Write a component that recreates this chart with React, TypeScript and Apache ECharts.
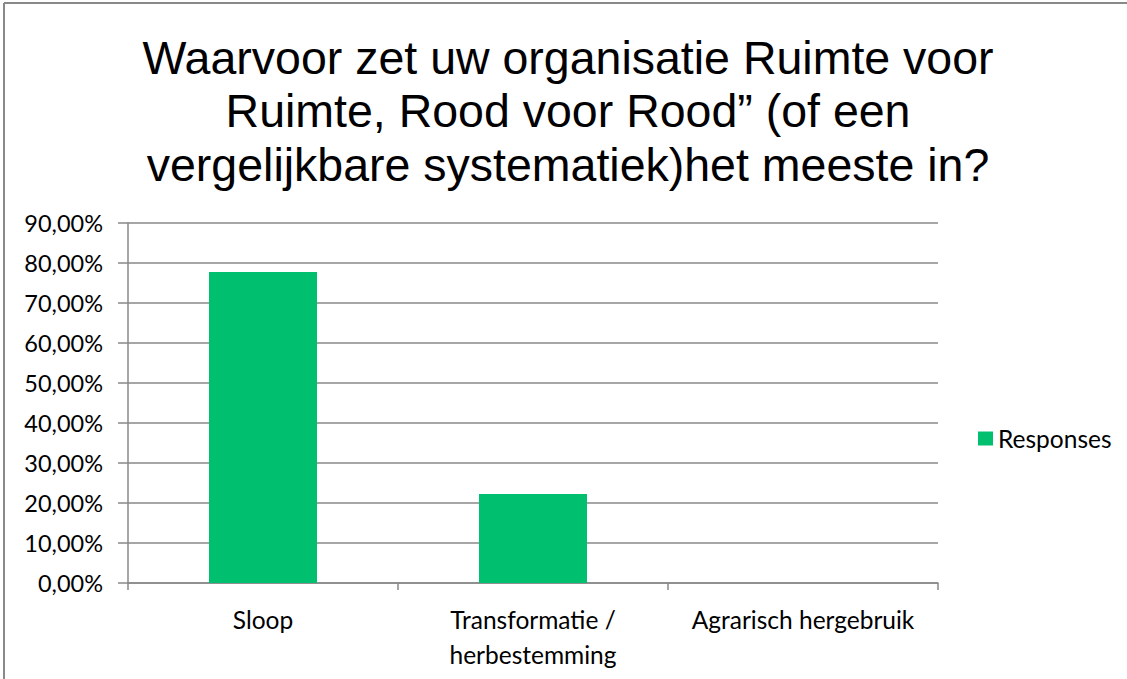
import React, { useEffect, useRef } from "react";
import * as echarts from "echarts";

const TITLE = "Waarvoor zet uw organisatie Ruimte voor\nRuimte, Rood voor Rood\u201d (of een\nvergelijkbare systematiek)het meeste in?";
const categories = ["Sloop", "Transformatie / herbestemming", "Agrarisch hergebruik"];
const responses = [77.78, 22.22, 0];
const SERIES_NAME = "Responses";
const yMin = 0;
const yMax = 90;
const yInterval = 10;

export default function App() {
  const ref = useRef<HTMLDivElement>(null);
  useEffect(() => {
    document.body.style.margin = "0";
    const chart = echarts.init(ref.current!, null, { renderer: "svg" });
    const labelFont = "Lato, 'Open Sans', sans-serif";
    chart.setOption({
      animation: false,
      backgroundColor: "#ffffff",
      title: {
        text: TITLE,
        left: 563,
        top: 26,
        textAlign: "center",
        textStyle: {
          fontFamily: "'Liberation Sans', Arial, sans-serif",
          fontSize: 46.5,
          fontWeight: "normal",
          color: "#000000",
          lineHeight: 53.5,
        },
      },
      graphic: [
        { type: "line", shape: { x1: 4, y1: 3, x2: 1127, y2: 3 }, style: { stroke: "#898989", lineWidth: 2 } },
        { type: "line", shape: { x1: 4, y1: 3, x2: 4, y2: 679 }, style: { stroke: "#898989", lineWidth: 2 } },
      ],
      legend: {
        left: 978,
        top: 426,
        padding: 0,
        itemGap: 0,
        itemWidth: 15,
        itemHeight: 14,
        icon: "rect",
        textStyle: { fontFamily: labelFont, fontSize: 24.5, color: "#000000" },
        data: [SERIES_NAME],
      },
      grid: { left: 128, right: 189, top: 223, bottom: 96, containLabel: false },
      xAxis: {
        type: "category",
        data: categories,
        axisLine: { lineStyle: { color: "#898989", width: 1.5 } },
        axisTick: { show: true, alignWithLabel: false, length: 7, lineStyle: { color: "#898989", width: 1.5 } },
        axisLabel: {
          interval: 0,
          margin: 19,
          fontFamily: labelFont,
          fontSize: 24.5,
          color: "#000000",
          lineHeight: 35,
          formatter: (v: string) => v.replace(" / ", " /\n"),
        },
      },
      yAxis: {
        type: "value",
        min: yMin,
        max: yMax,
        interval: yInterval,
        axisLine: { show: true, lineStyle: { color: "#898989", width: 1.5 } },
        axisTick: { show: true, length: 10, lineStyle: { color: "#898989", width: 1.5 } },
        splitLine: { show: true, lineStyle: { color: "#898989", width: 1.5 } },
        axisLabel: {
          margin: 25,
          fontFamily: labelFont,
          fontSize: 23.5,
          color: "#000000",
          formatter: (v: number) => v.toFixed(2).replace(".", ",") + "%",
        },
      },
      series: [
        {
          name: SERIES_NAME,
          type: "bar",
          data: responses,
          barWidth: "40%",
          itemStyle: { color: "#00BF6F" },
        },
      ],
    });
    return () => chart.dispose();
  }, []);
  return <div ref={ref} style={{ width: 1127, height: 679 }} />;
}
